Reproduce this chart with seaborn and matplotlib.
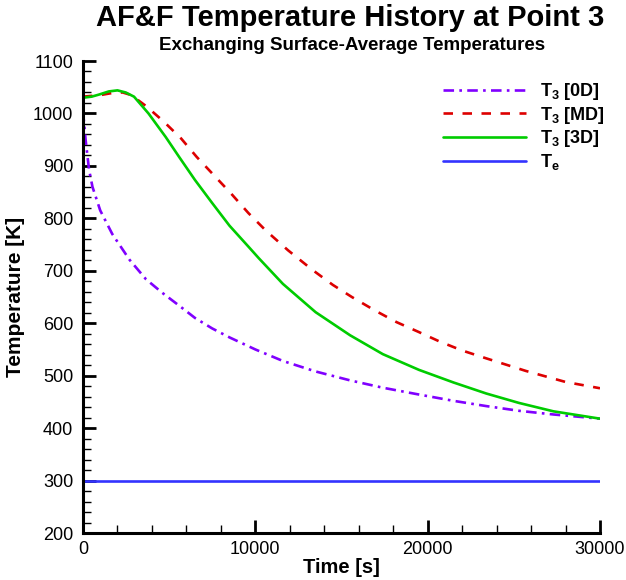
import numpy as np
import pandas as pd
import matplotlib
matplotlib.use("Agg")
import matplotlib.pyplot as plt
from matplotlib.ticker import MultipleLocator
import seaborn as sns

# -------------------------------
# Data
# -------------------------------
t_0d = [0, 150, 350, 550, 1000, 1700, 2700, 3650, 4600, 5600, 6500, 7500,
        8500, 10000, 11600, 13500, 15500, 17400, 19500, 21500, 23400, 25300,
        27300, 30000]
T_0d = [1005, 950, 893, 860, 815, 770, 721, 684, 658, 633, 610, 590,
        573, 550, 528, 508, 491, 477, 464, 452, 442, 433, 426, 418]

t_md = [0, 1000, 1700, 2300, 2800, 3700, 4700, 5700, 6600, 7600, 8600, 9600,
        10600, 11900, 13300, 14500, 15600, 16900, 18200, 19500, 20700, 22000,
        23400, 25700, 28000, 30000]
T_md = [1032, 1035, 1039, 1040, 1035, 1013, 984, 952, 917, 882, 847, 810,
        777, 739, 702, 673, 650, 625, 602, 583, 565, 548, 533, 509, 488, 476]

t_3d = [0, 500, 930, 1500, 2000, 2480, 2960, 3800, 4800, 5600, 6500, 7500,
        8500, 9600, 10200, 11600, 13500, 15500, 17400, 19500, 21500, 23400,
        25300, 27300, 30000]
T_3d = [1030, 1032, 1036, 1042, 1044, 1040, 1032, 1000, 955, 916, 873, 829,
        786, 746, 724, 675, 621, 577, 541, 511, 487, 466, 448, 432, 418]

t_e = [0, 30000]
T_e = [300, 300]

labels = ["T$_\\mathregular{3}$ [0D]", "T$_\\mathregular{3}$ [MD]",
          "T$_\\mathregular{3}$ [3D]", "T$_\\mathregular{e}$"]

df = pd.concat([
    pd.DataFrame({"t": t_0d, "T": T_0d, "series": labels[0]}),
    pd.DataFrame({"t": t_md, "T": T_md, "series": labels[1]}),
    pd.DataFrame({"t": t_3d, "T": T_3d, "series": labels[2]}),
    pd.DataFrame({"t": t_e, "T": T_e, "series": labels[3]}),
])

# -------------------------------
# Style
# -------------------------------
sns.set_style("white")
plt.rcParams["font.family"] = ["Liberation Sans", "DejaVu Sans"]
plt.rcParams["mathtext.fontset"] = "custom"
plt.rcParams["mathtext.rm"] = "Liberation Sans:bold"
plt.rcParams["mathtext.it"] = "Liberation Sans:bold"
plt.rcParams["mathtext.bf"] = "Liberation Sans:bold"
plt.rcParams["text.color"] = "black"
plt.rcParams["axes.labelcolor"] = "black"
plt.rcParams["xtick.color"] = "black"
plt.rcParams["ytick.color"] = "black"

palette = {labels[0]: "#8000ff", labels[1]: "#dd0000",
           labels[2]: "#00cc00", labels[3]: "#3333ff"}
dashes = {labels[0]: (4, 2, 1, 2), labels[1]: (3.6, 3.6),
          labels[2]: "", labels[3]: ""}

fig = plt.figure(figsize=(6.26, 5.8), dpi=100)
ax = fig.add_axes([83 / 626, 47 / 580, 517 / 626, 472 / 580])

sns.lineplot(data=df, x="t", y="T", hue="series", style="series",
             palette=palette, dashes=dashes, linewidth=1.9, sort=False,
             estimator=None, ax=ax)

ax.set_xlim(0, 30000)
ax.set_ylim(200, 1100)
ax.xaxis.set_major_locator(MultipleLocator(10000))
ax.xaxis.set_minor_locator(MultipleLocator(2000))
ax.yaxis.set_major_locator(MultipleLocator(100))
ax.yaxis.set_minor_locator(MultipleLocator(20))

for s in ["top", "right"]:
    ax.spines[s].set_visible(False)
for s in ["left", "bottom"]:
    ax.spines[s].set_linewidth(2.2)
    ax.spines[s].set_color("black")

ax.tick_params(which="both", bottom=True, left=True, top=False, right=False,
               direction="in")
ax.tick_params(which="major", length=9.5, width=2, labelsize=13, pad=7)
ax.tick_params(which="minor", length=6, width=1)
ax.tick_params(axis="x", which="major", pad=6)

ax.set_xlabel("Time [s]", fontsize=14.5, fontweight="bold", labelpad=0)
ax.set_ylabel("Temperature [K]", fontsize=15, fontweight="bold", labelpad=6)

handles, lbls = ax.get_legend_handles_labels()
ax.legend(handles, lbls, loc="upper left",
          bbox_to_anchor=(443 / 626, 1 - 81 / 580),
          bbox_transform=fig.transFigure, frameon=False, borderpad=0,
          borderaxespad=0, handlelength=4.6, handletextpad=0.75,
          labelspacing=0.15, prop={"size": 13, "weight": "bold"})

fig.text(350 / 626, 1 - 18 / 580, "AF&F Temperature History at Point 3",
         ha="center", va="center", fontsize=21, fontweight="bold")
fig.text(352 / 626, 1 - 45 / 580, "Exchanging Surface-Average Temperatures",
         ha="center", va="center", fontsize=13.5, fontweight="bold")

fig.savefig("out.png", dpi=100)
